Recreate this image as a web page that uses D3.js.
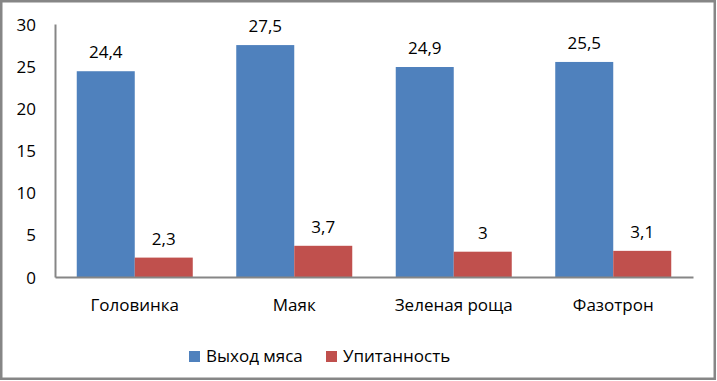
<!DOCTYPE html>
<html><head><meta charset="utf-8">
<script src="https://cdn.jsdelivr.net/npm/d3@7"></script>
<style>
html,body{margin:0;padding:0;background:#fff;}
svg text{font-family:"Open Sans",Lato,sans-serif;fill:#000;}
</style></head>
<body><svg id="c" width="717" height="381"></svg>
<script>
const categories = ["Головинка","Маяк","Зеленая роща","Фазотрон"];
const seriesNames = ["Выход мяса","Упитанность"];
const meatYield = [24.4, 27.5, 24.9, 25.5];
const fatness = [2.3, 3.7, 3, 3.1];
const yTicks = [0,5,10,15,20,25,30];
const colors = ["#4F81BD","#C0504D"];
const FS = 17;

const svg = d3.select("#c");
svg.append("rect").attr("x",1.25).attr("y",1.25).attr("width",713.5).attr("height",377.5)
  .attr("fill","#fff").attr("stroke","#868686").attr("stroke-width",2.5);

const x = d3.scaleBand().domain(categories).range([55, 693]).paddingInner(0.2727).paddingOuter(0.1364);
const x1 = d3.scaleBand().domain(seriesNames).range([0, x.bandwidth()]);
const y = d3.scaleLinear().domain([0,30]).range([277, 24]);

const data = categories.map((c,i)=>({c, vals:[meatYield[i], fatness[i]]}));

const g = svg.append("g");
data.forEach(d=>{
  d.vals.forEach((v,j)=>{
    const bx = x(d.c) + x1(seriesNames[j]);
    g.append("rect").attr("x",bx).attr("y",y(v)).attr("width",x1.bandwidth())
      .attr("height",y(0)-y(v)).attr("fill",colors[j]);
    g.append("text").attr("x",bx + x1.bandwidth()/2).attr("y",y(v)-13)
      .attr("text-anchor","middle").attr("font-size",FS)
      .text(String(v).replace(".",","));
  });
});

const ya = svg.append("g").attr("transform","translate(55,0)")
  .call(d3.axisLeft(y).tickValues(yTicks).tickSize(0).tickPadding(19).tickFormat(d=>d));
ya.select(".domain").attr("stroke","#868686").attr("stroke-width",2);
ya.selectAll("text").attr("font-size",FS).attr("font-family",null).attr("dy","0.36em");

const xa = svg.append("g").attr("transform",`translate(0,${y(0)})`)
  .call(d3.axisBottom(x).tickSize(0));
xa.select(".domain").attr("stroke","#868686").attr("stroke-width",2);
xa.selectAll("text").attr("font-size",FS).attr("font-family",null).attr("dy",null).attr("y",34);

const leg = svg.append("g");
const legX = [189, 326];
seriesNames.forEach((s,j)=>{
  leg.append("rect").attr("x",legX[j]).attr("y",351).attr("width",11).attr("height",11).attr("fill",colors[j]);
  leg.append("text").attr("x",legX[j]+17).attr("y",362).attr("font-size",FS).text(s);
});
</script></body></html>
